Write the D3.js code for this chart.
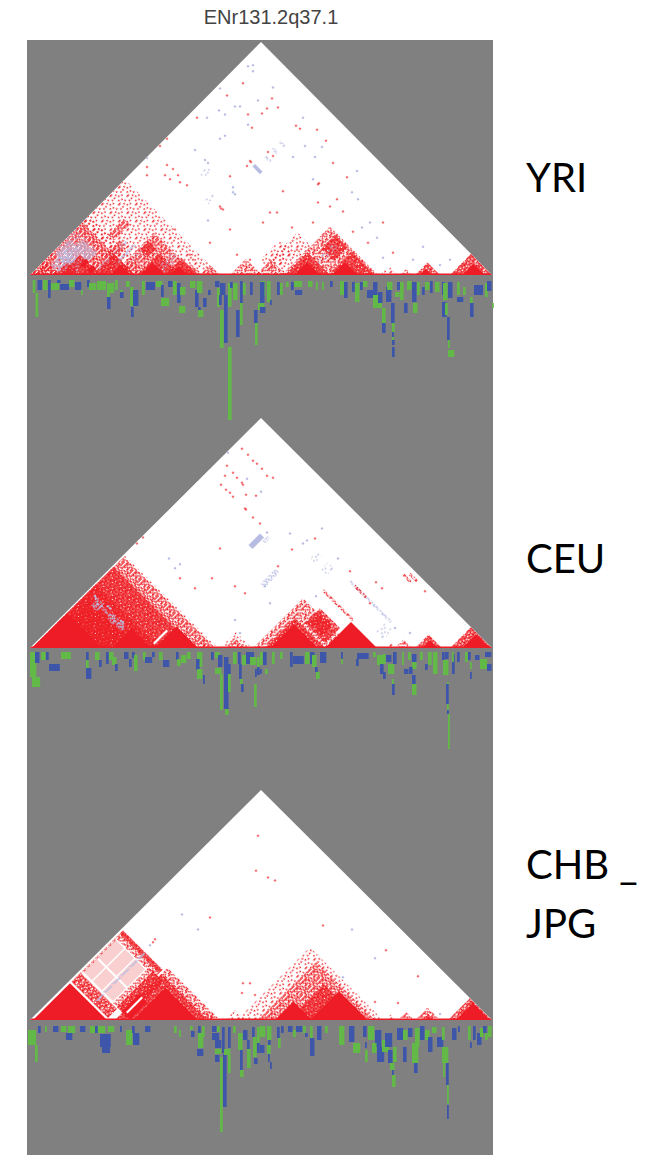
<!DOCTYPE html>
<html>
<head>
<meta charset="utf-8">
<script src="https://cdn.jsdelivr.net/npm/d3@7"></script>
<style>
  html, body { margin: 0; padding: 0; background: #fff; }
  svg { display: block; }
</style>
</head>
<body>
<div id="chart"></div>
<script>
var W = 648, H = 1155;

var regionName = "ENr131.2q37.1";

// LD regions: [a, b, level] = block between two markers, [a0, a1, b0, b1, level] = rectangle of pairs
// levels: s solid, d dense, m medium, l light, k pale, w white, L lavender, p lavender medium, q lavender light
var yriRegions = [
  [0,190,"l"],[0,118,"l"],[0,105,"m"],[60,66,75,130,"p"],[72,78,95,135,"p"],[84,90,110,140,"q"],
  [0,46,46,92,"q"],[10,35,30,62,"p"],[18,45,45,88,"p"],[5,22,45,75,"p"],[25,50,25,50,"d"],[4,30,4,30,"m"],[30,70,30,70,"d"],
  [55,70,95,125,"m"],[38,50,118,150,"m"],
  [82,166,"m"],[108,150,"d"],[85,100,135,152,"d"],[135,168,"d"],[62,105,"d"],[80,100,"s"],[110,135,"s"],[140,158,"s"],[118,136,118,136,"s"],
  [120,132,136,166,"q"],[40,46,60,72,"s"],[52,60,62,72,"s"],[150,172,"m"],
  [170,190,170,190,"m"],[200,232,"m"],[226,256,"m"],[215,240,245,285,"l"],[225,255,255,310,"l"],
  [252,348,"m"],[255,300,"d"],[265,290,318,345,"d"],[298,345,"d"],[264,290,"s"],[302,328,"s"],
  [272,280,300,335,"q"],[350,368,"l"],[370,382,"m"],[385,410,"d"],[390,402,"s"],[420,462,"d"],[432,455,"s"],
  [117,127,380,384,"p"],[117,127,366,370,"p"],[118,128,351,355,"p"],[115,130,330,335,"L"],
  [100,108,248,262,"q"],[70,78,270,285,"q"]
];
var yriCells = [
  [197,178,0],[167,156,0],[213,190,0],[218,159,0],[222,146,0],[237,165,0],[232,160,0],[248,166,0],[242,175,0],
  [220,113,0],[221,112,0],[266,148,0],[270,145,0],[287,144,0],[296,133,0],[200,98,0],[317,97,0],[289,91,0],
  [117,107,0],[117,99,0],[135,99,0],[137,109,0],[143,105,0],[148,99,0],[140,95,0],[157,89,0],[137,135,0],
  [130,128,0],[303,111,0],[238,122,0],[243,118,0],[217,108,0],[253,83,0],[288,90,0],[300,68,0],[288,72,0],
  [262,47,0],[247,62,0],[283,52,0],[293,40,0],[338,32,0],[323,43,0],[267,25,0],[240,62,0],[233,52,0],
  [307,75,0],[313,63,0],[353,52,0],[363,22,0],[190,68,0],[191,66,0],[193,65,0],[200,45,0],[180,32,0],[150,92,0],
  [145,45,0],[160,20,0],[207,20,0],[220,15,0],[163,15,0],
  [223,208,1],[218,207,1],[223,202,1],[190,185,1],[243,186,1],[228,173,1],[189,163,1],[177,156,1],[205,167,1],
  [210,167,1],[218,149,1],[195,159,1],[273,156,1],[147,148,1],[190,135,1],[195,138,1],[165,124,1],[175,114,1],
  [178,111,1],[117,116,1],[275,128,1],[285,117,1],[292,127,1],[263,117,1],[327,103,1],[283,95,1],[203,87,1],
  [322,82,1],[328,75,1],[340,52,1],[332,47,1],[347,37,1],[353,17,1],[383,15,1],[393,28,1],[410,10,1],[420,15,1],
  [203,82,1],[205,80,1],[178,54,1]
];
// association track: [x, width, depth start, depth end, allele] 0 green, 1 blue
var yriTrack = [
  [2.7,3,0,13,0],[5.5,3,13,37,0],[7.5,5,0,10,1],[13,5,0,10,0],[18,3,0,18,1],[21,9,3,10,0],[27,4,0,3,1],[30,10,4,10,1],
  [39,6,0,7,0],[45,7,2,10,1],[51,2,10,15,0],[57,3,0,7,1],[59,8,3,10,0],[67,10,1,10,0],[77,8,3,13,0],[77,3,12,17,0],
  [77,4,17,29,1],[85,3,0,10,0],[90,3,10,17,0],[90,4,12,18,1],[96,4,1,7,0],[100,4,7,26,0],[101,3,27,37,1],[103,6,10,26,1],
  [112,3,1,15,0],[116,10,2,10,1],[126,7,1,7,0],[131,3,5,17,1],[131,9,18,26,0],[138,5,1,7,1],[143,4,1,15,0],[147,4,3,23,1],
  [150,6,7,15,0],[149,7,26,33,0],[160,6,1,8,0],[165,4,10,27,1],[168,6,30,37,0],[168,3,27,30,1],[173,4,18,27,1],
  [167,6,1,13,0],[178,3,10,15,1],[187,3,8,27,0],[185,5,1,7,1],[190,4,30,68,0],[190,6,3,15,1],[189,3,15,25,1],
  [194,4,15,63,1],[198,4,67,140,0],[198,4,3,27,0],[200,3,2,8,1],[203,5,3,20,0],[206,4,30,57,1],[210,3,23,45,0],
  [210,3,1,23,1],[213,3,3,15,0],[220,3,2,15,1],[225,3,43,65,0],[224,4,30,43,1],[228,2,23,30,0],
  [230,6,1,16,0],[230,5,2,23,1],[230,5,23,27,0],[230,6,27,33,1],[237,4,1,22,0],[240,2,20,25,1],[247,3,2,15,1],[250,3,3,15,0],
  [256,3,2,7,0],[261,3,2,10,1],[265,8,10,15,1],[264,9,1,7,0],[278,5,1,7,0],[286,2,2,10,0],[292,2,2,10,0],[300,3,1,7,1],
  [310,5,1,15,0],[314,4,2,18,1],[322,3,2,12,1],[325,5,3,22,0],[330,3,2,10,1],[333,5,1,7,0],[337,7,10,18,1],[343,5,2,15,1],
  [343,10,15,28,0],[348,5,12,23,1],[352,4,28,43,0],[352,4,43,53,1],[356,6,7,22,1],[357,6,2,10,0],[361,4,23,43,1],
  [362,3,43,52,0],[362,2,52,57,1],[362,2,57,60,0],[362,3,60,65,1],[362,3,67,77,1],[365,5,12,17,0],[367,5,2,10,1],
  [370,4,2,20,0],[374,4,23,33,1],[377,5,1,10,0],[382,5,2,15,1],[382,5,15,22,1],[383,5,23,33,0],[387,3,2,15,0],
  [392,3,7,15,1],[395,5,2,10,0],[400,3,1,13,1],[405,5,2,12,0],[412,3,2,15,1],[412,5,22,37,1],[413,5,3,20,0],[415,3,23,35,0],
  [418,5,2,18,1],[417,3,37,60,1],[418,2,60,68,0],[418,7,70,77,0],[427,3,2,15,0],[427,7,17,22,1],[433,3,7,15,0],
  [440,4,23,37,1],[440,3,17,23,0],[444,10,5,15,1],[455,3,3,17,0],[457,5,1,11,1],[462,2,23,28,0]
];

var ceuRegions = [
  [2,188,"l"],[2,185,"m"],[2,165,"d"],[2,130,"d"],[10,100,40,110,"d"],[20,75,110,115,"p"],[18,30,104,118,"p"],[48,60,106,118,"p"],[64,74,108,118,"p"],
  [118,121,128,155,"w"],[2,72,"s"],[82,121,"s"],[125,168,"s"],[168,182,"l"],
  [190,222,"l"],[195,215,"m"],[223,323,"m"],[235,295,"d"],[240,288,"s"],[250,290,300,330,"d"],[255,280,305,325,"d"],[295,347,"s"],
  [306,318,322,345,"m"],[235,295,349,353,"m"],[253,335,385,389,"p"],[262,285,385,389,"m"],[305,320,452,456,"m"],[300,315,445,449,"m"],
  [330,345,362,380,"q"],[212,224,370,384,"q"],[166,174,295,325,"p"],[356,366,"l"],[365,382,"m"],[385,412,"d"],[392,408,"s"],
  [420,462,"d"],[432,460,"s"],[115,123,322,345,"L"],[125,130,340,350,"p"],[190,200,370,385,"q"]
];
var ceuCells = [
  [212,200,0],[218,194,0],[223,188,0],[227,185,0],[232,180,0],[237,173,0],[243,171,0],[197,183,0],[203,176,0],[212,166,0],
  [213,164,0],[191,164,0],[200,156,0],[203,152,0],[226,153,0],[215,140,0],[216,139,0],[223,131,0],[230,125,0],[216,154,0],
  [195,173,0],[207,171,0],[196,159,0],[107,105,0],[113,111,0],[190,100,0],[182,70,0],[205,62,0],[215,55,0],[150,70,0],
  [165,60,0],[320,77,0],[346,66,0],[352,60,0],[395,57,0],[340,45,0],[248,82,0],[285,110,0],[262,99,0],
  [198,196,1],[217,170,1],[231,157,1],[237,116,1],[292,120,1],[260,115,1],[277,108,1],[273,105,1],[139,90,1],[145,80,1],
  [150,84,1],[235,62,1],[240,45,1],[205,28,1],[210,15,1],[365,20,1],[380,15,1],[308,90,1],[286,52,1],
  [65,52,1],[66,50,1],[78,42,1],[80,40,1],[91,27,1],[93,26,1]
];
var ceuTrack = [
  [0,7,0,25,0],[2,9,25,35,0],[5,5,0,11,1],[11,5,0,8,0],[16,3,0,8,1],[19,12,12,19,1],[31,11,0,7,0],[56,3,0,8,1],[56,3,8,16,0],
  [56,6,16,27,1],[65,5,0,8,0],[69,3,8,15,1],[76,3,0,12,1],[79,5,0,8,0],[82,5,5,13,0],[85,3,12,19,1],[94,5,0,7,1],
  [99,3,7,15,1],[102,3,0,6,1],[104,4,3,19,0],[113,3,0,8,0],[115,8,5,11,1],[122,3,0,5,1],[129,4,0,8,0],[133,7,8,15,1],
  [146,3,0,8,1],[147,4,7,14,0],[151,6,3,11,0],[157,4,0,7,0],[167,6,0,15,0],[166,4,7,18,1],[167,6,17,27,0],[173,2,23,32,1],
  [181,3,0,8,1],[185,5,0,6,0],[185,7,16,22,0],[188,5,3,15,1],[190,3,22,58,0],[194,5,5,57,1],[195,4,57,63,0],[198,3,22,40,0],
  [198,3,12,22,1],[203,4,0,12,0],[208,3,0,12,1],[209,3,12,27,1],[210,3,27,32,0],[211,3,32,40,1],[212,5,3,13,0],[216,9,0,12,1],
  [220,7,5,13,0],[225,2,17,25,1],[224,3,32,55,0],[227,3,5,15,0],[227,3,15,23,1],
  [230,3,0,13,0],[233,4,0,13,1],[230,2,17,22,1],[235,3,17,22,0],[242,3,0,12,0],[250,3,0,7,0],[260,3,0,15,1],[263,12,4,12,1],
  [275,5,0,12,0],[280,5,0,12,1],[282,5,3,15,0],[285,3,15,20,1],[286,4,20,27,0],[290,7,0,11,1],[311,2,0,7,1],[311,2,7,12,0],
  [327,13,1,7,1],[326,3,7,14,1],[343,3,0,5,0],[347,7,3,13,0],[350,4,12,22,1],[353,3,20,27,1],[353,3,2,12,0],[356,6,3,10,1],
  [358,7,12,22,0],[363,4,0,12,1],[362,2,27,32,0],[362,3,32,43,1],[372,2,0,13,0],[374,5,17,22,1],[378,3,0,8,0],[382,5,2,10,1],
  [382,5,10,17,0],[379,4,15,22,1],[382,4,23,32,1],[382,5,32,43,0],[390,3,0,8,0],[395,3,12,18,1],[398,4,0,13,0],[403,5,0,22,0],
  [412,3,0,8,1],[413,6,8,23,0],[415,4,0,7,1],[417,2,30,32,0],[416,3,32,52,1],[417,2,52,58,0],[417,2,58,62,1],[418,2,62,97,0],
  [422,3,2,22,1],[422,2,0,10,0],[427,3,0,10,1],[435,3,0,10,0],[438,3,0,8,1],[440,2,10,17,0],[440,2,20,27,1],[445,5,3,8,1],
  [450,8,7,17,0],[455,7,0,5,1],[457,5,12,19,1]
];

var chbRegions = [
  [85,190,"m"],[85,178,"d"],[195,215,"l"],[207,353,"l"],[228,345,"m"],[258,330,"d"],[3,76,80,100,"d"],[3,84,98,183,"w"],
  [5,22,102,128,"k"],[24,42,102,128,"k"],[5,22,131,166,"k"],[24,42,131,166,"k"],[44,64,131,166,"k"],[44,64,102,128,"k"],
  [3,82,168,183,"m"],[3,82,176,183,"d"],[66,82,100,172,"m"],[74,84,100,172,"d"],[3,6,98,168,"m"],[45,49,85,182,"p"],
  [80,95,100,172,"d"],[83,100,100,135,"s"],[88,91,104,135,"w"],[120,124,125,165,"w"],[3,77,"s"],[103,168,"s"],
  [170,186,"m"],[245,282,"s"],[280,338,"s"],[355,366,"l"],
  [368,384,"m"],[385,410,"m"],[392,404,"d"],[418,462,"d"],[426,460,"s"]
];
var chbCells = [
  [228,185,0],[226,150,0],[238,143,0],[245,140,0],[293,95,0],[356,70,0],[388,44,0],[368,17,0],[123,78,0],[125,81,0],
  [180,103,0],[213,37,0],[220,37,0],[212,27,0],[225,25,0],[345,18,0],
  [322,91,1],[313,43,1],[152,106,1],[168,91,1],[120,75,1],[345,62,1],[410,6,1]
];
var chbTrack = [
  [-2,9,5,20,0],[5,3,20,37,0],[8,3,1,8,1],[15,2,1,7,0],[23,6,1,7,1],[31,6,1,7,0],[36,7,8,15,1],[38,8,1,8,0],[50,6,1,7,1],
  [60,7,1,8,0],[65,3,1,8,1],[68,8,1,8,0],[70,12,9,22,1],[72,9,22,28,1],[78,7,1,7,0],[90,2,1,7,1],[96,7,5,20,0],[103,7,8,20,1],
  [102,3,1,8,1],[115,6,1,7,1],[144,3,1,8,0],[149,2,5,12,0],[160,3,1,5,0],[161,4,6,12,1],[167,7,24,31,1],[168,6,8,23,0],
  [168,3,1,8,1],[172,3,1,12,0],[182,5,1,7,1],[187,3,1,7,0],[182,8,8,15,1],[185,7,15,23,1],[185,7,24,29,0],[185,5,30,37,1],
  [190,3,32,107,0],[193,4,29,82,1],[192,3,2,28,1],[194,7,24,30,0],[198,3,30,48,0],[198,3,2,23,1],[203,3,1,8,0],[208,5,8,25,0],
  [210,3,32,45,1],[210,4,45,52,0],[210,3,25,32,1],[213,5,5,15,1],[217,4,24,43,0],[217,3,15,24,1],[222,3,2,12,1],[224,4,33,39,1],
  [223,4,12,32,0],[227,3,2,18,0],[227,3,18,28,1],
  [230,6,1,12,0],[237,5,1,15,0],[230,5,20,28,1],[238,3,15,20,1],[237,4,20,29,0],[238,2,29,37,1],[240,2,37,44,1],[248,3,13,23,0],
  [247,3,2,13,1],[251,3,1,8,1],[258,5,1,7,1],[263,3,5,12,0],[266,7,1,7,1],[273,3,1,8,0],[275,3,8,12,1],[280,3,1,13,0],
  [280,5,13,31,1],[287,5,1,15,1],[295,3,1,8,0],[309,6,1,20,0],[319,6,1,17,1],[323,8,18,28,0],[333,4,1,12,1],[335,2,17,23,1],
  [335,3,25,37,0],[338,7,1,15,0],[345,7,5,22,1],[342,5,18,28,0],[347,8,22,37,1],[352,8,15,27,0],[355,8,8,22,1],[358,5,25,38,1],
  [360,5,38,45,0],[362,2,45,50,1],[362,4,50,62,0],[363,4,22,37,0],[367,7,3,15,1],[373,4,22,37,1],[373,5,5,15,0],[378,5,3,12,1],
  [382,7,18,38,0],[384,4,38,48,1],[385,5,3,22,0],[390,5,1,15,1],[395,5,5,15,0],[398,5,12,27,1],[402,5,2,8,0],[407,7,12,22,1],
  [412,3,2,15,0],[412,7,22,38,0],[413,2,38,52,0],[416,3,38,60,1],[417,2,60,79,0],[417,2,80,94,1],[422,5,3,15,1],[428,2,1,7,1],
  [438,3,1,15,0],[440,2,17,23,1],[443,3,1,15,1],[447,5,8,20,1],[450,4,3,12,0],[453,4,1,8,1],[455,3,8,15,0],[458,4,1,12,0]
];

var populations = [
  { name: ["YRI"], top: 42, base: 275, track: 280, regions: yriRegions, cells: yriCells, bars: yriTrack, labelY: [192] },
  { name: ["CEU"], top: 418, base: 648, track: 652, regions: ceuRegions, cells: ceuCells, bars: ceuTrack, labelY: [573] },
  { name: ["CHB _", "JPG"], top: 790, base: 1020, track: 1025, regions: chbRegions, cells: chbCells, bars: chbTrack, labelY: [879, 938] }
];

// 8x8 speckle tiles, drawn turned by 45 degrees like the LD cells
var tileDense = ["##.###.#","#.###.##","###.####",".##.#.##","####.###","#.#####.","###.#.##",".####.##"];
var tileMedium = ["#..#.##.",".##..#..","#.#.#..#","..##..#.","#..#.#.#",".#...##.","#.##.#..","..#..#.#"];
var tileLight = ["#.......","...#....",".....#..",".#......","....#..#","..#.....","......#.","#..#...."];

var RED = "#ee1f25", LAV = "#b7bce2", GREEN = "#63b947", BLUE = "#3c56a9", GREY = "#808080";
var CELL = 1.5;

var svg = d3.select("#chart").append("svg").attr("width", W).attr("height", H);
var defs = svg.append("defs");

defs.append("filter").attr("id", "soft").attr("x", "-5%").attr("y", "-5%").attr("width", "110%").attr("height", "110%")
  .append("feGaussianBlur").attr("stdDeviation", 0.5);

function addPattern(id, tile, color) {
  var p = defs.append("pattern").attr("id", id)
    .attr("patternUnits", "userSpaceOnUse")
    .attr("width", 8 * CELL).attr("height", 8 * CELL)
    .attr("patternTransform", "rotate(45)");
  tile.forEach(function(row, j) {
    row.split("").forEach(function(c, i) {
      if (c == "#") {
        p.append("rect").attr("x", i * CELL).attr("y", j * CELL).attr("width", CELL).attr("height", CELL).attr("fill", color);
      }
    });
  });
}
addPattern("dd", tileDense, RED);
addPattern("mm", tileMedium, RED);
addPattern("ll", tileLight, RED);
addPattern("pp", tileMedium, LAV);
addPattern("qq", tileLight, LAV);

var levelFill = { s: RED, d: "url(#dd)", m: "url(#mm)", l: "url(#ll)", k: "#f9cfcf", w: "#fff", L: LAV, p: "url(#pp)", q: "url(#qq)" };

svg.append("rect").attr("x", 27).attr("y", 40).attr("width", 466).attr("height", H - 40).attr("fill", GREY);

svg.append("text").attr("x", 271).attr("y", 24)
  .attr("text-anchor", "middle")
  .style("font-family", "'Liberation Sans', Arial, sans-serif")
  .style("font-size", "20px")
  .attr("fill", "#444")
  .text(regionName);

var x = d3.scaleLinear().domain([0, 462]).range([30, 492]);

populations.forEach(function(pop, n) {
  var y = d3.scaleLinear().domain([0, 231]).range([pop.base, pop.top]);
  var depth = d3.scaleLinear().domain([0, 140]).range([pop.track, pop.track + 140]);

  function pair(a, b) { return x((a + b) / 2) + "," + y((b - a) / 2); }
  var corners = pair(0, 0) + " " + pair(0, 462) + " " + pair(462, 462);

  defs.append("clipPath").attr("id", "tri" + n).append("polygon").attr("points", corners);

  var ld = svg.append("g").attr("filter", "url(#soft)");
  ld.append("polygon").attr("points", corners).attr("fill", "#fff");

  var inner = ld.append("g").attr("clip-path", "url(#tri" + n + ")");

  inner.selectAll("polygon")
    .data(pop.regions)
    .enter()
    .append("polygon")
    .attr("points", function(d) {
      var a0 = d[0], a1 = d[1];
      var b0 = d.length == 3 ? d[0] : d[2], b1 = d.length == 3 ? d[1] : d[3];
      return [pair(a0, b0), pair(a0, b1), pair(a1, b1), pair(a1, b0)].join(" ");
    })
    .attr("fill", function(d) { return levelFill[d[d.length - 1]]; });

  inner.selectAll("path")
    .data(pop.cells)
    .enter()
    .append("path")
    .attr("d", d3.symbol().type(d3.symbolSquare).size(4.5))
    .attr("transform", function(d) { return "translate(" + x(d[0]) + "," + y(d[1]) + ") rotate(45)"; })
    .attr("fill", function(d) { return d[2] == 0 ? RED : LAV; })
    .attr("opacity", function(d) { return d[2] == 0 ? 0.65 : 1; });

  inner.append("line")
    .attr("x1", x(0)).attr("x2", x(462))
    .attr("y1", y(0.7)).attr("y2", y(0.7))
    .attr("stroke", RED).attr("stroke-width", 1.6);

  var track = svg.append("g").attr("filter", "url(#soft)");
  track.selectAll("rect")
    .data(pop.bars)
    .enter()
    .append("rect")
    .attr("x", function(d) { return x(d[0]); })
    .attr("y", function(d) { return depth(d[2]); })
    .attr("width", function(d) { return (x(d[1]) - x(0)) * 0.9; })
    .attr("height", function(d) { return depth(d[3]) - depth(d[2]); })
    .attr("fill", function(d) { return d[4] == 0 ? GREEN : BLUE; });

  svg.selectAll("text.pop" + n)
    .data(pop.name)
    .enter()
    .append("text")
    .attr("class", "pop" + n)
    .attr("x", 526)
    .attr("y", function(d, i) { return pop.labelY[i]; })
    .style("font-family", "Lato, 'Open Sans', sans-serif")
    .style("font-size", "40px")
    .attr("fill", "#000")
    .text(function(d) { return d; });
});
</script>
</body>
</html>
